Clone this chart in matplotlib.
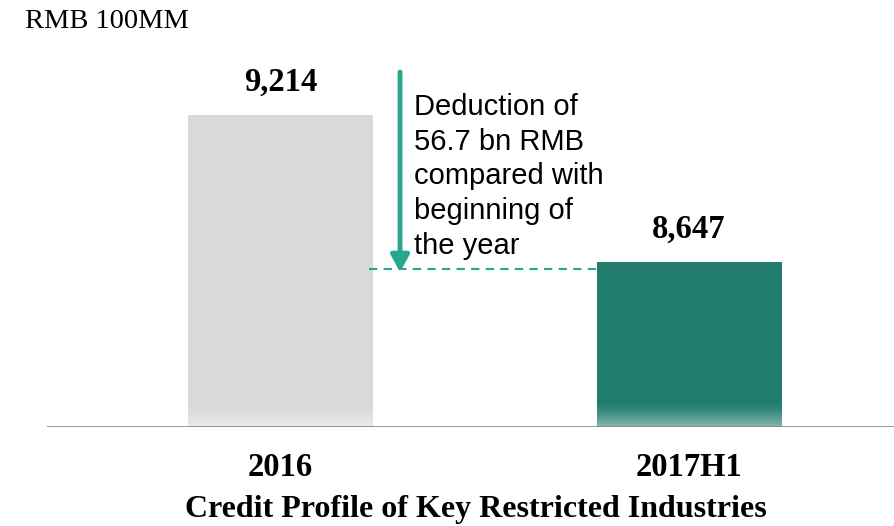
import numpy as np
import matplotlib.pyplot as plt

categories = ["2016", "2017H1"]
values = [9214, 8647]
labels = ["9,214", "8,647"]
bar_colors = ["#d9d9d9", "#217c6e"]
note = "Deduction of\n56.7 bn RMB\ncompared with\nbeginning of\nthe year"

SERIF = ["Liberation Serif", "DejaVu Serif"]
SANS = ["Liberation Sans", "DejaVu Sans"]

fig = plt.figure(figsize=(8.95, 5.26), dpi=100)
ax = fig.add_axes([0, 0.1882, 1, 0.8118])

ymin = 8010
ymax = ymin + 427 / 0.2591
x = np.arange(len(categories))
width = 0.453
ax.set_xlim(-0.6867, 1.504)
ax.set_ylim(ymin, ymax)

bars = ax.bar(x, values, width=width, color=bar_colors, bottom=0, zorder=1)

# soft white fade at the foot of each bar
fade = np.ones((64, 1, 4))
fade[:, 0, 3] = np.linspace(0.55, 0.0, 64) ** 1.3
fade_top = ymin + 24 / 0.2591
for xi in x:
    ax.imshow(fade, extent=(xi - width / 2, xi + width / 2, ymin, fade_top),
              aspect="auto", origin="lower", zorder=2, interpolation="bilinear")

for xi, v, lab in zip(x, values, labels):
    ax.text(xi, v + 65, lab, ha="center", va="bottom", fontsize=23.5,
            fontweight="bold", family=SERIF)

# baseline
ax.axhline(ymin + 1, xmin=48 / 895, xmax=1, color="#8c8c8c", lw=2, zorder=3)

# drop arrow and reference line
arrow_x = 0.2925
ref = 8618
ax.plot([x[0] + width / 2 - 0.01, x[1] - width / 2], [ref, ref], ls=(0, (4, 3)),
        color="#2aa58f", lw=1.5, zorder=3)
ax.annotate("", xy=(arrow_x, ref - 10), xytext=(arrow_x, 9380),
            arrowprops=dict(arrowstyle="-|>,head_width=0.55,head_length=1.0",
                            color="#2aa58f", lw=3.5, shrinkA=0, shrinkB=0))
ax.text(0.3275, 9300, note, ha="left", va="top", fontsize=21,
        linespacing=1.31, family=SANS)

ax.set_xticks([])
ax.set_yticks([])
for s in ax.spines.values():
    s.set_visible(False)
ax.patch.set_visible(False)

for xi, cat in zip(x, categories):
    fig.text((280.5 + xi * 408.5) / 895, 1 - 468 / 526, cat, ha="center",
             va="center", fontsize=23.5, fontweight="bold", family=SERIF)
fig.text(476 / 895, 1 - 510 / 526, "Credit Profile of Key Restricted Industries",
         ha="center", va="center", fontsize=23, fontweight="bold", family=SERIF)
fig.text(25 / 895, 1 - 21 / 526, "RMB 100MM", ha="left", va="center",
         fontsize=20.5, family=SERIF)

fig.savefig("out.png", dpi=100)
